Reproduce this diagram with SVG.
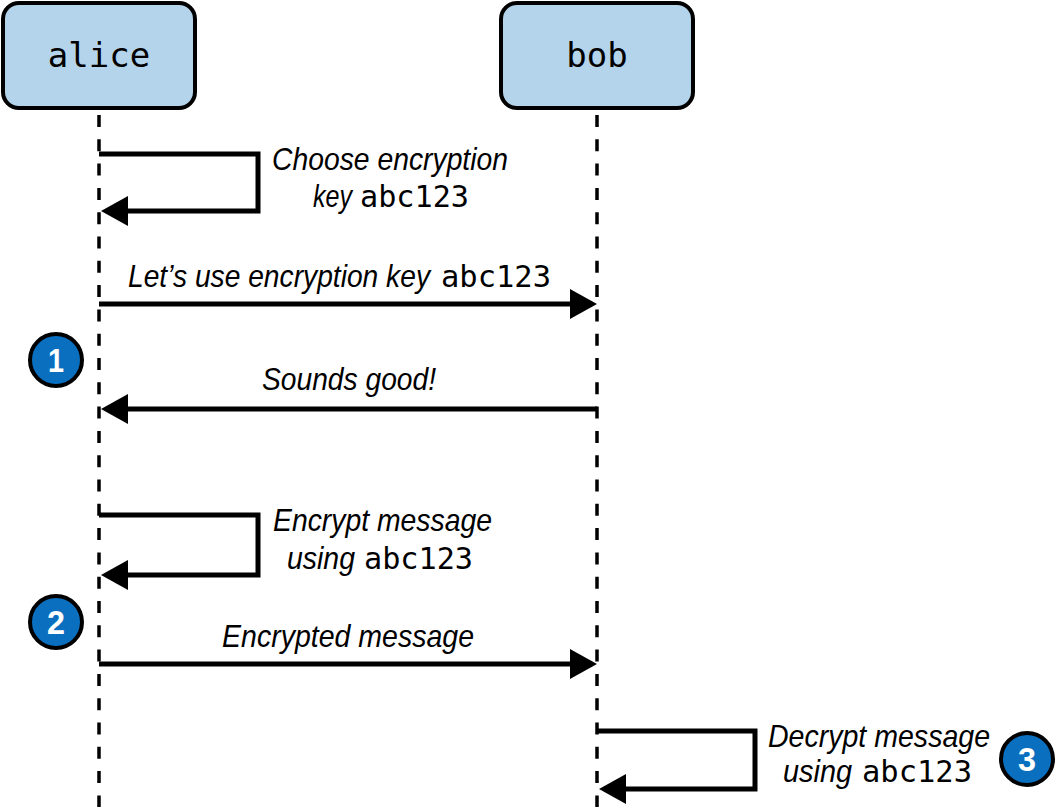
<svg xmlns="http://www.w3.org/2000/svg" width="1057" height="807" viewBox="0 0 1057 807">
<defs>
<marker id="ah" viewBox="0 0 27 30" refX="7" refY="15" markerWidth="27" markerHeight="30" markerUnits="userSpaceOnUse" orient="auto">
<path d="M0,0 L27,15 L0,30 Z" fill="#000"/>
</marker>
</defs>
<style>
.actor rect{fill:#b3d4ea;stroke:#000;stroke-width:4}
.actor text{font-family:"DejaVu Sans Mono",monospace;font-size:34px;fill:#000;text-anchor:middle}
.life{stroke:#000;stroke-width:3.5;stroke-dasharray:12 12.3;fill:none}
.msg{stroke:#000;stroke-width:5;fill:none;marker-end:url(#ah)}
.it{font-family:"Liberation Sans",sans-serif;font-style:italic;font-size:32px;fill:#000}
.mono{font-family:"DejaVu Sans Mono",monospace;font-style:normal;font-size:30px;fill:#000}
.badge circle{fill:#0a6fbe;stroke:#000;stroke-width:4}
.badge text{font-family:"Liberation Sans",sans-serif;font-size:34px;font-weight:bold;fill:#fff;text-anchor:middle}
</style>
<rect width="1057" height="807" fill="#fff"/>
<g id="lifelines">
<line class="life" x1="99" y1="115" x2="99" y2="807"/>
<line class="life" x1="597" y1="115" x2="597" y2="807"/>
</g>
<g id="alice" class="actor">
<rect x="3" y="3" width="192" height="105" rx="16"/>
<text x="99" y="67">alice</text>
</g>
<g id="bob" class="actor">
<rect x="501" y="3" width="192" height="105" rx="16"/>
<text x="597" y="67">bob</text>
</g>
<g id="connectors">
<path class="msg" d="M99,154 H258 V211 H121"/>
<path class="msg" d="M99,304 H577"/>
<path class="msg" d="M597,409 H121"/>
<path class="msg" d="M99,515 H258 V575 H121"/>
<path class="msg" d="M99,664 H577"/>
<path class="msg" d="M597,731 H755 V789 H619"/>
</g>
<g id="labels">
<text class="it" x="272" y="170" textLength="236" lengthAdjust="spacingAndGlyphs">Choose encryption</text>
<text class="it" x="313" y="207"><tspan textLength="39" lengthAdjust="spacingAndGlyphs">key</tspan><tspan class="mono" x="360" textLength="109" lengthAdjust="spacingAndGlyphs">abc123</tspan></text>
<text class="it" x="128" y="287"><tspan textLength="302" lengthAdjust="spacingAndGlyphs">Let’s use encryption key</tspan><tspan class="mono" x="441" textLength="110" lengthAdjust="spacingAndGlyphs">abc123</tspan></text>
<text class="it" x="262" y="390" textLength="174" lengthAdjust="spacingAndGlyphs">Sounds good!</text>
<text class="it" x="273" y="531" textLength="219" lengthAdjust="spacingAndGlyphs">Encrypt message</text>
<text class="it" x="287" y="569"><tspan textLength="68" lengthAdjust="spacingAndGlyphs">using</tspan><tspan class="mono" x="364" textLength="109" lengthAdjust="spacingAndGlyphs">abc123</tspan></text>
<text class="it" x="222" y="647" textLength="252" lengthAdjust="spacingAndGlyphs">Encrypted message</text>
<text class="it" x="768" y="747" textLength="222" lengthAdjust="spacingAndGlyphs">Decrypt message</text>
<text class="it" x="783" y="782"><tspan textLength="69" lengthAdjust="spacingAndGlyphs">using</tspan><tspan class="mono" x="862" textLength="110" lengthAdjust="spacingAndGlyphs">abc123</tspan></text>
</g>
<g id="badge1" class="badge">
<circle cx="56" cy="360" r="26"/>
<text x="56" y="372" textLength="16" lengthAdjust="spacingAndGlyphs">1</text>
</g>
<g id="badge2" class="badge">
<circle cx="56" cy="622" r="26"/>
<text x="56" y="634" textLength="18" lengthAdjust="spacingAndGlyphs">2</text>
</g>
<g id="badge3" class="badge">
<circle cx="1027" cy="759" r="26"/>
<text x="1027" y="771" textLength="18" lengthAdjust="spacingAndGlyphs">3</text>
</g>
</svg>
